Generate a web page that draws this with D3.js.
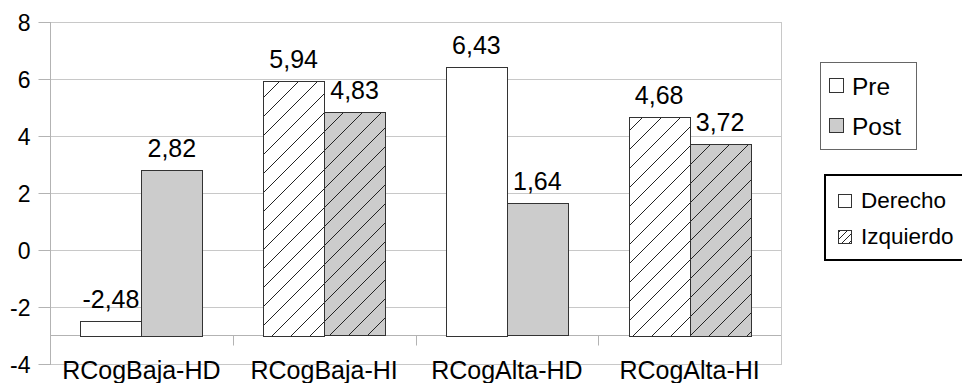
<!DOCTYPE html>
<html>
<head>
<meta charset="utf-8">
<script src="https://cdn.jsdelivr.net/npm/d3@7"></script>
<style>
  html, body { margin: 0; padding: 0; background: #fff; overflow: hidden; }
  svg { display: block; font-family: "Liberation Sans", Arial, sans-serif; }
</style>
</head>
<body>
<svg id="chart" width="962" height="383"></svg>
<script>
// Grouped bar chart: Pre / Post by group, right vs left hemisphere
const categories = ["RCogBaja-HD", "RCogBaja-HI", "RCogAlta-HD", "RCogAlta-HI"];
const preValues  = [-2.48, 5.94, 6.43, 4.68];
const postValues = [2.82, 4.83, 1.64, 3.72];
const sides      = ["Derecho", "Izquierdo", "Derecho", "Izquierdo"];
const seriesNames = ["Pre", "Post"];
const sideNames   = ["Derecho", "Izquierdo"];
const yTicks = [-4, -2, 0, 2, 4, 6, 8];
const baseValue = -3; // category axis crosses here

const svg = d3.select("#chart");
const plot = { left: 50, right: 781, top: 22, bottom: 364 };

const y = d3.scaleLinear().domain([-4, 8]).range([plot.bottom, plot.top]);
const x0 = d3.scaleBand().domain(categories).range([plot.left, plot.right]).padding(0);
const x1 = d3.scaleBand().domain(seriesNames).range([0, x0.bandwidth()])
  .paddingInner(0).paddingOuter(0.5);

const fills = { Pre: "#ffffff", Post: "#cccccc" };
// decimal comma, plain hyphen for negatives
const fmt = v => v.toFixed(2).replace(".", ",");

// hatch patterns for the left-hemisphere bars
const defs = svg.append("defs");
[["hatch-Pre", fills.Pre], ["hatch-Post", fills.Post]].forEach(([id, bg]) => {
  const p = defs.append("pattern").attr("id", id)
    .attr("patternUnits", "userSpaceOnUse").attr("width", 19).attr("height", 19);
  p.append("rect").attr("width", 19).attr("height", 19).attr("fill", bg);
  p.append("path").attr("d", "M-1,1 L1,-1 M0,19 L19,0 M18,20 L20,18")
    .attr("stroke", "#222").attr("stroke-width", 1);
});
const hatchSmall = defs.append("pattern").attr("id", "hatch-small")
  .attr("patternUnits", "userSpaceOnUse").attr("width", 7).attr("height", 7);
hatchSmall.append("rect").attr("width", 7).attr("height", 7).attr("fill", "#fff");
hatchSmall.append("path").attr("d", "M-1,1 L1,-1 M0,7 L7,0 M6,8 L8,6")
  .attr("stroke", "#222").attr("stroke-width", 1);

// gridlines
svg.append("g").selectAll("line").data(yTicks).join("line")
  .attr("x1", plot.left).attr("x2", plot.right)
  .attr("y1", d => Math.round(y(d)) + 0.5).attr("y2", d => Math.round(y(d)) + 0.5)
  .attr("stroke", "#c8c8c8").attr("stroke-width", 1);

// right frame edge
svg.append("line")
  .attr("x1", plot.right + 0.5).attr("x2", plot.right + 0.5)
  .attr("y1", plot.top).attr("y2", plot.bottom + 1)
  .attr("stroke", "#c8c8c8");

// y axis
const yAxis = svg.append("g")
  .attr("transform", `translate(${plot.left + 0.5},0)`)
  .call(d3.axisLeft(y).tickValues(yTicks).tickSize(12).tickPadding(8)
    .tickFormat(d => String(d)));
yAxis.select(".domain").attr("stroke", "#b3b3b3")
  .attr("d", `M0,${plot.top}V${plot.bottom + 1}`);
yAxis.selectAll(".tick line").attr("stroke", "#b3b3b3");
yAxis.selectAll(".tick text")
  .attr("font-family", "'Liberation Sans', Arial, sans-serif")
  .attr("font-size", 23).attr("fill", "#000")
  .attr("dy", "0.36em");

// category axis at the base value
const xAxisY = Math.round(y(baseValue)) + 0.5;
const xAxis = svg.append("g").attr("transform", `translate(0,${xAxisY})`);
xAxis.append("line").attr("x1", plot.left).attr("x2", plot.right)
  .attr("stroke", "#b3b3b3");
xAxis.selectAll("line.sep").data(categories.slice(1)).join("line").attr("class", "sep")
  .attr("x1", d => Math.round(x0(d)) + 0.5).attr("x2", d => Math.round(x0(d)) + 0.5)
  .attr("y1", 0).attr("y2", 10).attr("stroke", "#b3b3b3");
svg.append("g").selectAll("text").data(categories).join("text")
  .attr("x", d => x0(d) + x0.bandwidth() / 2)
  .attr("y", 379)
  .attr("text-anchor", "middle")
  .attr("font-size", 25).attr("fill", "#000")
  .text(d => d);

// bars
const rows = [];
categories.forEach((c, i) => {
  rows.push({ cat: c, series: "Pre", value: preValues[i], side: sides[i] });
  rows.push({ cat: c, series: "Post", value: postValues[i], side: sides[i] });
});
const fillFor = d => d.side === "Izquierdo" ? `url(#hatch-${d.series})` : fills[d.series];

svg.append("g").selectAll("rect").data(rows).join("rect")
  .attr("x", d => Math.round(x0(d.cat) + x1(d.series)) + 0.5)
  .attr("width", Math.round(x1.bandwidth()))
  .attr("y", d => Math.round(Math.min(y(d.value), y(baseValue))) + 0.5)
  .attr("height", d => Math.round(Math.abs(y(baseValue) - y(d.value))))
  .attr("fill", fillFor)
  .attr("stroke", "#333").attr("stroke-width", 1);

// value labels
svg.append("g").selectAll("text").data(rows).join("text")
  .attr("x", d => x0(d.cat) + x1(d.series) + x1.bandwidth() / 2)
  .attr("y", d => y(d.value) - 13)
  .attr("text-anchor", "middle")
  .attr("font-size", 25).attr("fill", "#000")
  .text(d => fmt(d.value));

// legend: series
const leg1 = svg.append("g");
leg1.append("rect").attr("x", 820.5).attr("y", 62.5).attr("width", 96).attr("height", 87)
  .attr("fill", "#fff").attr("stroke", "#666");
seriesNames.forEach((s, i) => {
  const gy = 78 + i * 40;
  leg1.append("rect").attr("x", 829.5).attr("y", gy + 0.5).attr("width", 14).attr("height", 14)
    .attr("fill", fills[s]).attr("stroke", "#333");
  leg1.append("text").attr("x", 852).attr("y", gy + 16.5)
    .attr("font-size", 24.5).attr("fill", "#000").text(s);
});

// legend: hemisphere (box runs past the right edge of the canvas)
const leg2 = svg.append("g");
leg2.append("path")
  .attr("d", "M975,175 H825 V260 H975")
  .attr("fill", "#fff").attr("stroke", "#000").attr("stroke-width", 2);
sideNames.forEach((s, i) => {
  const gy = 194 + i * 36;
  leg2.append("rect").attr("x", 838.5).attr("y", gy + 0.5).attr("width", 13).attr("height", 13)
    .attr("fill", s === "Izquierdo" ? "url(#hatch-small)" : "#fff").attr("stroke", "#333");
  leg2.append("text").attr("x", 861).attr("y", gy + 14)
    .attr("font-size", 22.5).attr("fill", "#000").text(s);
});
</script>
</body>
</html>
